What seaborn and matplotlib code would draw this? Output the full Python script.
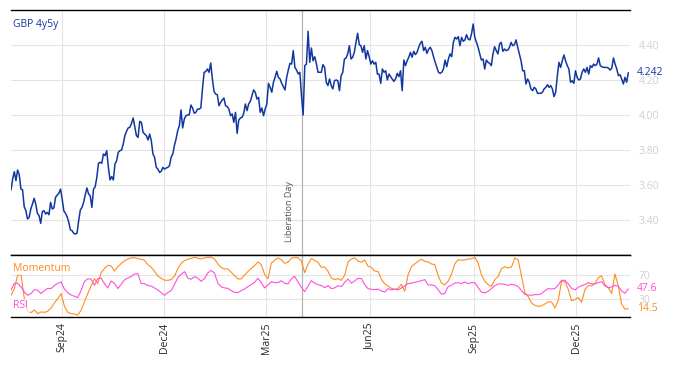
import numpy as np
import pandas as pd
import matplotlib
matplotlib.use("Agg")
import matplotlib.pyplot as plt
import matplotlib.dates as mdates
import matplotlib.ticker as mticker
import seaborn as sns

# series span
start, end = "2024-07-18", "2026-01-16"
event_date = "2025-04-02"
event_label = "Liberation Day"

# GBP 4y5y level (~1 point per business day)
rate = [
    3.571, 3.634, 3.676, 3.625, 3.686, 3.659, 3.577, 3.573, 3.476, 3.453,
    3.406, 3.415, 3.463, 3.491, 3.524, 3.491, 3.438, 3.425, 3.381, 3.448,
    3.453, 3.434, 3.444, 3.430, 3.501, 3.463, 3.469, 3.530, 3.543, 3.552,
    3.577, 3.520, 3.453, 3.438, 3.419, 3.387, 3.343, 3.339, 3.324, 3.320,
    3.324, 3.396, 3.457, 3.472, 3.501, 3.545, 3.583, 3.549, 3.539, 3.472,
    3.577, 3.590, 3.644, 3.724, 3.730, 3.724, 3.777, 3.768, 3.796, 3.701,
    3.629, 3.648, 3.629, 3.720, 3.739, 3.787, 3.796, 3.800, 3.834, 3.882,
    3.907, 3.926, 3.930, 3.952, 3.983, 3.933, 3.882, 3.872, 3.964, 3.958,
    3.901, 3.891, 3.882, 3.857, 3.891, 3.853, 3.777, 3.758, 3.701, 3.691,
    3.672, 3.678, 3.701, 3.691,
    3.697, 3.701, 3.710, 3.758, 3.777, 3.825, 3.863, 3.910, 3.939, 4.029,
    3.926, 3.977, 3.996, 4.000, 4.002, 4.057, 4.040, 4.010, 4.015, 4.034,
    4.034, 4.040, 4.149, 4.244, 4.248, 4.263, 4.244, 4.297, 4.206, 4.135,
    4.120, 4.116, 4.053, 4.072, 4.086, 4.097, 4.053, 4.048, 4.034, 3.996,
    4.006, 3.958, 4.015, 3.895, 3.971, 3.983, 3.987, 4.010, 4.063, 4.025,
    4.063, 4.078, 4.110, 4.143, 4.130, 4.091, 4.101, 4.015, 4.040, 3.996,
    4.034, 4.063, 4.181, 4.158, 4.130, 4.187, 4.215, 4.250, 4.215, 4.206,
    4.181, 4.162, 4.143, 4.215, 4.257, 4.295, 4.291, 4.368, 4.272, 4.257,
    4.234, 4.244, 4.110, 4.000, 4.282, 4.291, 4.478, 4.301, 4.383, 4.310,
    4.333, 4.295, 4.244, 4.244, 4.244, 4.288, 4.272, 4.187, 4.168,
    4.206, 4.168, 4.149, 4.196, 4.200, 4.196, 4.139, 4.225, 4.244, 4.320,
    4.326, 4.349, 4.396, 4.320, 4.330, 4.358, 4.415, 4.467, 4.402, 4.396,
    4.358, 4.396, 4.320, 4.368, 4.333, 4.291, 4.310, 4.291, 4.301, 4.234,
    4.234, 4.181, 4.263, 4.244, 4.253, 4.200, 4.234, 4.219, 4.206, 4.192,
    4.206, 4.238, 4.219, 4.253, 4.139, 4.314, 4.282, 4.310, 4.330, 4.358,
    4.330, 4.364, 4.345, 4.358, 4.387, 4.410, 4.421, 4.368, 4.387, 4.352,
    4.375, 4.387, 4.368, 4.333, 4.301, 4.272, 4.244, 4.238, 4.244, 4.263,
    4.314, 4.276, 4.320, 4.349, 4.333, 4.415, 4.444, 4.434, 4.448, 4.396,
    4.444, 4.421, 4.429, 4.459, 4.434, 4.429, 4.463, 4.520, 4.444, 4.415,
    4.387, 4.349, 4.314, 4.320, 4.263, 4.314, 4.301,
    4.295, 4.282, 4.349, 4.390, 4.368, 4.349, 4.406, 4.415, 4.364, 4.377,
    4.368, 4.371, 4.387, 4.415, 4.396, 4.402, 4.429, 4.387, 4.349, 4.310,
    4.253, 4.253, 4.177, 4.206, 4.187, 4.149, 4.139, 4.158, 4.149, 4.124,
    4.124, 4.124, 4.130, 4.149, 4.158, 4.173, 4.158, 4.168, 4.149, 4.105,
    4.130, 4.225, 4.301, 4.272, 4.310, 4.343, 4.310, 4.282, 4.263, 4.187,
    4.196, 4.181, 4.253, 4.215, 4.200, 4.206, 4.244, 4.263, 4.244, 4.272,
    4.234, 4.282, 4.272, 4.291, 4.282, 4.291, 4.326, 4.282, 4.276, 4.272,
    4.272, 4.272, 4.268, 4.257, 4.268, 4.326, 4.291, 4.263, 4.225, 4.230,
    4.206, 4.177, 4.215, 4.187, 4.242,
]

momentum = [
    36.7, 47.8, 70.0, 71.1, 31.1, 10.0, 7.8, 12.2, 6.1, 8.9,
    8.3, 10.0, 15.6, 23.9, 31.1, 39.4, 18.9, 8.3, 6.1, 5.6,
    3.9, 11.7, 25.6, 39.4, 52.2, 64.4, 56.1, 74.4, 81.1, 86.7,
    85.6, 77.2, 83.9, 89.4, 93.9, 97.2, 98.9, 99.4, 97.8, 96.7,
    95.0, 87.8, 83.3, 76.7, 68.9, 65.0, 61.7, 61.7,
    62.8, 68.3, 81.1, 90.0, 94.4, 96.7, 98.3, 100.0, 98.3, 97.2,
    98.9, 100.0, 100.0, 97.2, 88.9, 82.8, 80.6, 80.6, 75.0, 69.4,
    63.9, 63.9, 70.6, 76.1, 81.7, 86.1, 92.2, 87.8, 71.7, 64.4,
    90.0, 95.0, 98.9, 96.1, 90.0, 91.7, 98.3, 99.4, 99.4, 93.9,
    74.4, 88.3, 97.8, 95.0, 91.7, 83.3, 83.9, 76.7,
    65.6, 62.8, 64.4, 61.7, 70.0, 92.2, 97.2, 98.9, 93.9, 91.7,
    95.6, 85.0, 83.3, 77.2, 76.1, 63.3, 55.6, 52.2, 48.3, 46.7,
    48.3, 55.0, 43.3, 70.6, 84.4, 88.9, 93.3, 96.7, 93.3, 92.2,
    88.9, 87.8, 69.4, 57.2, 53.9, 60.0, 71.7, 88.9, 96.1, 95.0,
    95.6, 97.2, 97.2, 100.0, 90.0, 70.6, 60.0, 54.4,
    51.7, 62.8, 68.3, 81.1, 84.4, 82.2, 83.9, 98.9, 95.6, 68.3,
    41.1, 34.4, 23.9, 20.0, 18.3, 18.9, 22.2, 25.6, 25.6, 15.6,
    27.8, 60.0, 60.0, 46.7, 27.8, 29.4, 32.8, 25.0, 46.1, 52.8,
    52.2, 56.1, 66.1, 68.9, 54.4, 49.4, 39.4, 72.2, 52.2, 22.2,
    13.3, 14.5,
]

rsi = [
    45.0, 56.7, 56.7, 50.6, 42.2, 36.7, 39.4, 46.1, 45.0, 39.4,
    44.4, 48.3, 47.8, 52.8, 56.7, 58.9, 47.2, 41.1, 37.2, 35.0,
    32.8, 44.4, 59.4, 64.4, 63.3, 53.3, 64.4, 65.6, 56.1, 48.9,
    60.6, 56.7, 47.8, 55.0, 62.2, 65.6, 67.8, 72.2, 72.8, 56.1,
    56.1, 52.8, 52.2, 48.9, 45.6, 41.1, 36.7, 41.1,
    44.4, 55.0, 66.1, 71.7, 76.1, 65.0, 63.3, 67.8, 65.0, 60.0,
    64.4, 73.9, 78.3, 73.3, 56.7, 50.6, 48.9, 48.3, 44.4, 41.7,
    41.1, 44.4, 47.2, 51.1, 54.4, 58.3, 65.0, 57.8, 48.9, 53.9,
    59.4, 57.8, 57.8, 61.1, 56.7, 55.6, 63.9, 68.3, 58.9, 50.0,
    42.8, 51.7, 61.1, 56.7, 54.4, 52.8, 49.4, 52.8,
    47.8, 48.9, 52.8, 51.1, 58.3, 63.9, 56.7, 60.6, 65.0, 64.4,
    54.4, 47.8, 46.7, 46.1, 47.2, 43.9, 42.2, 47.8, 45.6, 46.7,
    45.6, 48.9, 52.2, 56.1, 56.7, 58.3, 59.4, 61.1, 62.8, 53.9,
    53.9, 52.8, 46.1, 38.3, 40.0, 51.1, 53.3, 57.2, 57.8, 56.1,
    58.9, 56.1, 57.8, 57.8, 49.4, 41.7, 40.6, 43.3,
    47.8, 52.8, 55.6, 55.6, 55.0, 53.3, 55.0, 53.9, 51.1, 44.4,
    38.3, 37.2, 36.7, 37.8, 37.8, 39.4, 44.4, 47.8, 47.2, 47.8,
    53.9, 61.7, 61.7, 55.6, 48.3, 45.6, 50.0, 52.8, 54.4, 57.8,
    55.6, 55.6, 57.8, 59.4, 52.2, 49.4, 50.6, 53.3, 51.7, 43.9,
    40.0, 47.6,
]

rate_ticks = [3.4, 3.6, 3.8, 4.0, 4.2, 4.4]
osc_ticks = [30, 70]

BLUE = "#1237a0"
ORANGE = "#ff8c1e"
PINK = "#ff4fdb"
GRID = "#e4e4e4"
TICKGRAY = "#cfcfcf"

df_rate = pd.DataFrame({"date": pd.date_range(start, end, periods=len(rate)), "rate": rate})
df_osc = pd.DataFrame({"date": pd.date_range(start, end, periods=len(momentum)),
                       "momentum": momentum, "rsi": rsi})

sns.set_style("white")
plt.rcParams["font.family"] = ["Open Sans", "DejaVu Sans"]

fig = plt.figure(figsize=(6.74, 3.66), dpi=100)
ax = fig.add_axes([11 / 674, 1 - 255 / 366, 619 / 674, 245 / 366])
ax2 = fig.add_axes([11 / 674, 1 - 317 / 366, 619 / 674, 62 / 366], sharex=ax)

sns.lineplot(data=df_rate, x="date", y="rate", ax=ax, color=BLUE, lw=1.1)
sns.lineplot(data=df_osc, x="date", y="momentum", ax=ax2, color=ORANGE, lw=0.8)
sns.lineplot(data=df_osc, x="date", y="rsi", ax=ax2, color=PINK, lw=0.8)

ev = pd.Timestamp(event_date)
for a in (ax, ax2):
    a.axvline(ev, color="#b4b4b4", lw=0.9, zorder=1)
    a.set_xlabel("")
    a.set_ylabel("")
    a.grid(True, color=GRID, lw=0.8)
    a.set_axisbelow(True)
    for s in ("left", "right"):
        a.spines[s].set_visible(False)
    for s in ("top", "bottom"):
        a.spines[s].set_color("black")
        a.spines[s].set_linewidth(1.0)
    a.yaxis.tick_right()
    a.tick_params(axis="y", length=0, pad=6, labelsize=7.5, labelcolor=TICKGRAY)
    a.tick_params(axis="x", direction="in", length=4, width=0.8, color="black")

ax.set_xlim(pd.Timestamp(start), pd.Timestamp("2026-01-17 12:00"))
ax.xaxis.set_major_locator(mdates.MonthLocator(bymonth=[3, 6, 9, 12]))
ax.xaxis.set_major_formatter(mdates.DateFormatter("%b%y"))

ax.set_ylim(3.2, 4.6)
ax.set_yticks(rate_ticks)
ax.yaxis.set_major_formatter(mticker.FormatStrFormatter("%.2f"))
ax.tick_params(axis="x", labelbottom=False)

ax2.set_ylim(0.5, 103.8)
ax2.set_yticks(osc_ticks)
ax2.tick_params(axis="x", labelsize=7.5, labelrotation=90, pad=4)

# labels
ax.text(0.004, 0.94, "GBP 4y5y", transform=ax.transAxes, color=BLUE, fontsize=7.5,
        ha="left", va="center", bbox=dict(facecolor="white", edgecolor="none", pad=1.5))
ax.text(1.011, rate[-1], f"{rate[-1]:.3f}", transform=ax.get_yaxis_transform(),
        color=BLUE, fontsize=7.5, ha="left", va="center")
ax.annotate(event_label, xy=(ev, 3.2), xytext=(-6, 9), textcoords="offset points",
            rotation=90, ha="right", va="bottom", fontsize=6.5, color="#555555")

ax2.text(0.004, 0.79, "Momentum", transform=ax2.transAxes, color=ORANGE, fontsize=7.5,
         ha="left", va="center",
         bbox=dict(facecolor="white", edgecolor="none", alpha=0.7, pad=1))
ax2.text(0.004, 0.18, "RSI", transform=ax2.transAxes, color=PINK, fontsize=7.5,
         ha="left", va="center",
         bbox=dict(facecolor="white", edgecolor="none", alpha=0.7, pad=1))
ax2.text(1.011, rsi[-1], f"{rsi[-1]:.1f}", transform=ax2.get_yaxis_transform(),
         color=PINK, fontsize=7.5, ha="left", va="center")
ax2.text(1.011, momentum[-1], f"{momentum[-1]:.1f}", transform=ax2.get_yaxis_transform(),
         color=ORANGE, fontsize=7.5, ha="left", va="center")

fig.savefig("out.png", dpi=100)
